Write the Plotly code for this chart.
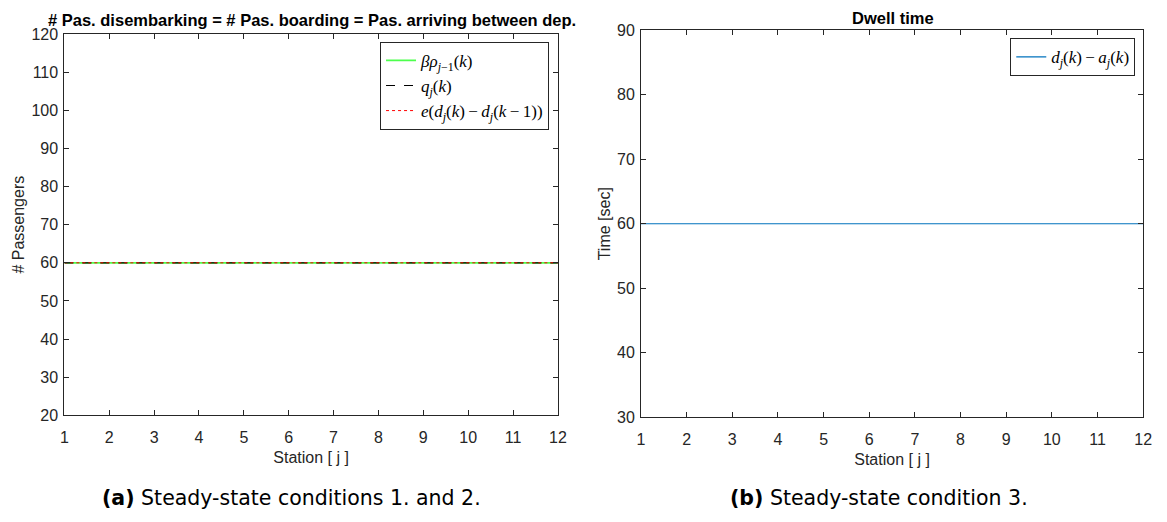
import plotly.graph_objects as go

# Station indices and steady-state values
stations = list(range(1, 13))
boarding_rho = [60] * 12          # beta * rho_{j-1}(k)
queue_q = [60] * 12               # q_j(k)
arrivals_e = [60] * 12            # e(d_j(k) - d_j(k-1))
dwell_time = [60] * 12            # d_j(k) - a_j(k)

x_ticks = list(range(1, 13))
y_ticks_left = list(range(20, 121, 10))
y_ticks_right = list(range(30, 91, 10))

AX = "#262626"
SANS = "Liberation Sans, Arial, sans-serif"
TICKFONT = dict(family=SANS, size=16, color=AX)
MATHFONT = dict(family="Liberation Serif, DejaVu Serif, serif", size=17, color="black")

fig = go.Figure()

fig.add_trace(go.Scatter(
    x=stations, y=boarding_rho, mode="lines", xaxis="x", yaxis="y",
    line=dict(color="rgb(77,255,77)", width=1.8),
    name="<i>βρ</i><sub><i>j</i>−1</sub>(<i>k</i>)", legend="legend"))
fig.add_trace(go.Scatter(
    x=stations, y=queue_q, mode="lines", xaxis="x", yaxis="y",
    line=dict(color="black", width=1.2, dash="dash"),
    name="<i>q<sub>j</sub></i>(<i>k</i>)", legend="legend"))
fig.add_trace(go.Scatter(
    x=stations, y=arrivals_e, mode="lines", xaxis="x", yaxis="y",
    line=dict(color="red", width=1, dash="dot"),
    name="<i>e</i>(<i>d<sub>j</sub></i>(<i>k</i>)\u2009−\u2009<i>d<sub>j</sub></i>(<i>k</i>\u2009−\u20091))",
    legend="legend"))
fig.add_trace(go.Scatter(
    x=stations, y=dwell_time, mode="lines", xaxis="x2", yaxis="y2",
    line=dict(color="#0072BD", width=1.2),
    name="<i>d<sub>j</sub></i>(<i>k</i>)\u2009−\u2009<i>a<sub>j</sub></i>(<i>k</i>)",
    legend="legend2"))

axis_common = dict(
    showline=True, linecolor=AX, linewidth=1, mirror="ticks",
    ticks="inside", ticklen=5, tickcolor=AX, tickwidth=1,
    showgrid=False, zeroline=False, tickfont=TICKFONT,
)
title_font = dict(family=SANS, size=16, color=AX)

fig.update_layout(
    width=1167, height=522,
    margin=dict(l=0, r=0, t=0, b=0),
    paper_bgcolor="white", plot_bgcolor="white",
    xaxis=dict(domain=[0.0523, 0.4800], range=[1, 12], tickvals=x_ticks,
               anchor="y", ticklabelstandoff=8,
               title=dict(text="Station [ j ]", font=title_font, standoff=6),
               **axis_common),
    yaxis=dict(domain=[0.1935, 0.9483], range=[20, 120], tickvals=y_ticks_left,
               anchor="x", ticklabelstandoff=2,
               title=dict(text="# Passengers", font=title_font, standoff=2),
               **axis_common),
    xaxis2=dict(domain=[0.5520, 0.9871], range=[1, 12], tickvals=x_ticks,
                anchor="y2", ticklabelstandoff=8,
                title=dict(text="Station [ j ]", font=title_font, standoff=6),
                **axis_common),
    yaxis2=dict(domain=[0.1897, 0.9559], range=[30, 90], tickvals=y_ticks_right,
                anchor="x2", ticklabelstandoff=2,
                title=dict(text="Time [sec]", font=title_font, standoff=2),
                **axis_common),
    legend=dict(x=0.4723, y=0.933, xanchor="right", yanchor="top",
                bgcolor="white", bordercolor=AX, borderwidth=1,
                font=MATHFONT, tracegroupgap=0, itemwidth=30,
                traceorder="normal"),
    legend2=dict(x=0.9803, y=0.9400, xanchor="right", yanchor="top",
                 bgcolor="white", bordercolor=AX, borderwidth=1,
                 font=MATHFONT, itemwidth=30),
    showlegend=True,
)

# Panel titles
title_txt_font = dict(family=SANS, size=16.5, color="black")
fig.add_annotation(text="<b># Pas. disembarking = # Pas. boarding = Pas. arriving between dep.</b>",
                   x=311 / 1167, y=1 - 12 / 522, xref="paper", yref="paper",
                   xanchor="center", yanchor="middle",
                   showarrow=False, font=title_txt_font)
fig.add_annotation(text="<b>Dwell time</b>",
                   x=899 / 1167, y=1 - 10 / 522, xref="paper", yref="paper",
                   xanchor="center", yanchor="middle",
                   showarrow=False, font=title_txt_font)

# Sub-figure captions
cap_font = dict(family="DejaVu Sans, sans-serif", size=20.5, color="black")
fig.add_annotation(text="<b>(a)</b> Steady-state conditions 1. and 2.",
                   x=291 / 1167, y=1 - 506 / 522, xref="paper", yref="paper",
                   xanchor="center", yanchor="middle",
                   showarrow=False, font=cap_font)
fig.add_annotation(text="<b>(b)</b> Steady-state condition 3.",
                   x=885 / 1167, y=1 - 506 / 522, xref="paper", yref="paper",
                   xanchor="center", yanchor="middle",
                   showarrow=False, font=cap_font)

fig.write_html("out.html")
